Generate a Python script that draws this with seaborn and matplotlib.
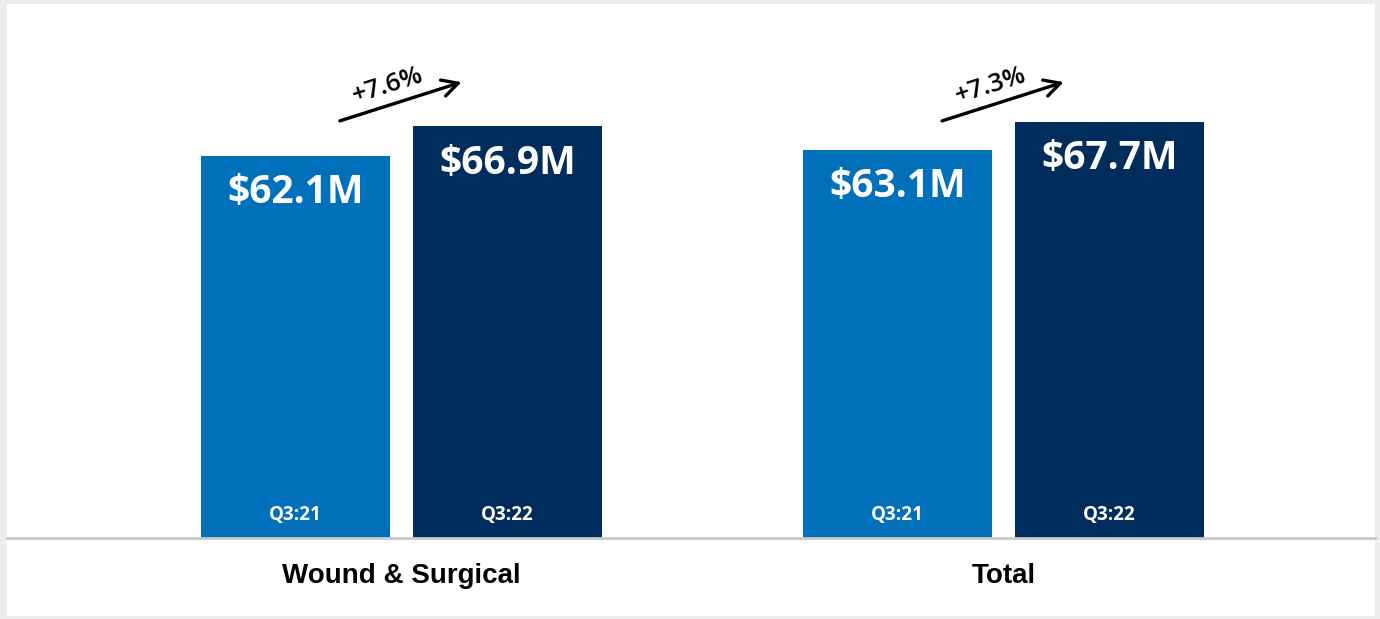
import matplotlib
matplotlib.use("Agg")
import matplotlib.pyplot as plt
from matplotlib.patches import Rectangle
import seaborn as sns
import pandas as pd

# ---- data ----
categories = ["Wound & Surgical", "Total"]
periods = ["Q3:21", "Q3:22"]
values_q321 = [62.1, 63.1]
values_q322 = [66.9, 67.7]
growth_labels = ["+7.6%", "+7.3%"]
colors = ["#0070BA", "#002D5B"]

df = pd.DataFrame({
    "category": categories * 2,
    "period": [periods[0]] * 2 + [periods[1]] * 2,
    "value": values_q321 + values_q322,
})

sns.set_theme(style="white")
plt.rcParams["font.family"] = ["Open Sans", "DejaVu Sans"]

fig = plt.figure(figsize=(13.8, 6.19), dpi=100, facecolor="#ececec")
bg = Rectangle((7 / 1380, 3 / 619), (1375 - 7) / 1380, (615 - 3) / 619,
               transform=fig.transFigure, facecolor="white",
               edgecolor="none", zorder=-10)
fig.patches.append(bg)

ax = fig.add_axes([7 / 1380, (619 - 538) / 619, (1375 - 7) / 1380, (538 - 4) / 619])
ax.set_facecolor("none")
ax.set_zorder(5)

sns.barplot(data=df, x="category", y="value", hue="period", order=categories,
            hue_order=periods, palette=colors, saturation=1, width=0.704,
            gap=0.1085, legend=False, ax=ax, edgecolor="none")

ax.set_xlim(-0.655, 1.617)
ax.set_ylim(0, 86.8)
for s in ["top", "right", "left"]:
    ax.spines[s].set_visible(False)
ax.spines["bottom"].set_color("#c8c8c8")
ax.spines["bottom"].set_linewidth(2)
ax.set_yticks([])
ax.set_xlabel("")
ax.set_ylabel("")
ax.tick_params(axis="x", length=0, pad=18)
for lbl in ax.get_xticklabels():
    lbl.set_fontfamily("Liberation Sans")
    lbl.set_fontweight("bold")
    lbl.set_fontsize(20)
    lbl.set_color("black")

# value labels and period labels inside bars
for ci, cont in enumerate(ax.containers):
    for bar in cont:
        cx = bar.get_x() + bar.get_width() / 2
        h = bar.get_height()
        ax.text(cx, h - 6.0, f"${h:.1f}M", ha="center", va="center",
                color="white", fontsize=28, fontweight="bold")
        ax.text(cx, 3.7, periods[ci], ha="center", va="center",
                color="white", fontsize=13.5, fontweight="bold")

# growth arrows
for i, g in enumerate(growth_labels):
    ax.annotate("", xy=(i + 0.100, 74.1), xytext=(i - 0.102, 67.8),
                arrowprops=dict(arrowstyle="->,head_length=0.95,head_width=0.5",
                                color="black", lw=2.4, shrinkA=0, shrinkB=0))
    ax.text(i - 0.022, 73.5, g, ha="center", va="center", rotation=17.5,
            rotation_mode="anchor", fontsize=18.5, fontweight="semibold",
            color="black")

fig.savefig("out.png", dpi=100, facecolor=fig.get_facecolor())
